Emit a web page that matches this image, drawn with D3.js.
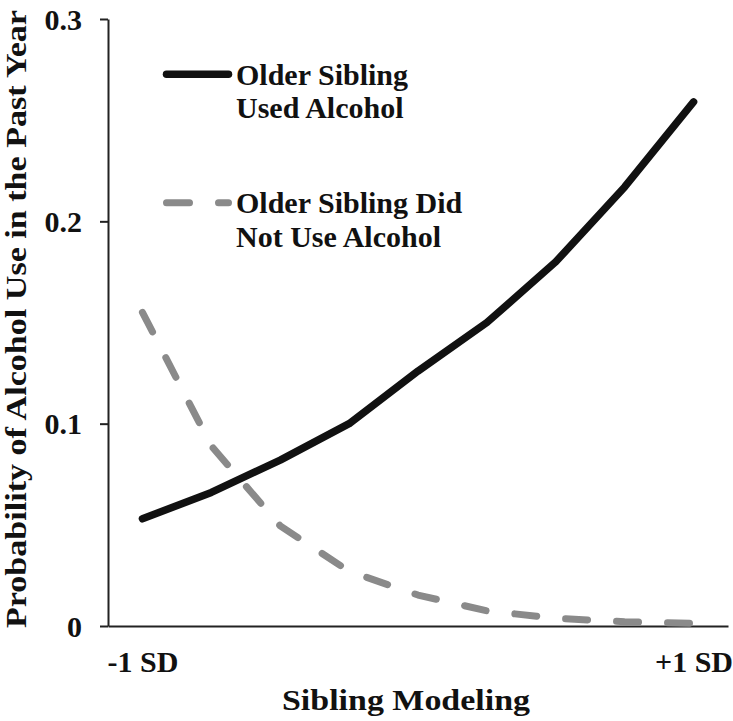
<!DOCTYPE html>
<html>
<head>
<meta charset="utf-8">
<script src="https://cdn.jsdelivr.net/npm/d3@7"></script>
<style>
  html, body { margin: 0; padding: 0; background: #fff; }
  svg { display: block; }
  text { font-family: "Liberation Serif", "Times New Roman", serif; font-weight: bold; fill: #111; }
</style>
</head>
<body>
<script>
// ---- data ----
const categories = ["-1 SD", "", "", "", "", "", "", "", "+1 SD"];
const usedAlcohol = [0.053, 0.066, 0.082, 0.100, 0.126, 0.150, 0.180, 0.217, 0.259];
const didNotUse = [0.155, 0.089, 0.0495, 0.027, 0.0153, 0.0075, 0.0038, 0.0021, 0.0013];
const yTicks = [0, 0.1, 0.2, 0.3];
const yTickLabels = ["0", "0.1", "0.2", "0.3"];
const seriesNames = [["Older Sibling", "Used Alcohol"], ["Older Sibling Did", "Not Use Alcohol"]];
const xTitle = "Sibling Modeling";
const yTitle = "Probability of Alcohol Use in the Past Year";

const W = 733, H = 721;
const svg = d3.select("body").append("svg").attr("width", W).attr("height", H);

const idx = categories.map((d, i) => i);
const x = d3.scalePoint().domain(idx).range([108, 728]).padding(0.5);
const y = d3.scaleLinear().domain([0, 0.3]).range([626, 19]);

// y axis
const yAxis = svg.append("g").attr("transform", "translate(108,0)")
  .call(d3.axisLeft(y).tickValues(yTicks).tickSize(8).tickSizeOuter(0)
    .tickFormat((d, i) => yTickLabels[i]));
yAxis.select(".domain").attr("stroke", "#222").attr("stroke-width", 2);
yAxis.selectAll(".tick line").attr("stroke", "#222").attr("stroke-width", 2);
yAxis.selectAll(".tick text").attr("x", -26).attr("dy", "0.34em")
  .style("font-size", "30px").style("font-family", "'Liberation Serif', serif").style("font-weight", "bold").attr("fill", "#111");

// x axis
const xAxis = svg.append("g").attr("transform", "translate(0,626)")
  .call(d3.axisBottom(x).tickSize(0).tickSizeOuter(0).tickFormat(i => categories[i]));
xAxis.select(".domain").attr("stroke", "#222").attr("stroke-width", 2);
xAxis.selectAll(".tick text").attr("y", 46).attr("dy", 0)
  .style("font-size", "30px").style("font-family", "'Liberation Serif', serif").style("font-weight", "bold").attr("fill", "#111");

// lines
const line = d3.line().x((d, i) => x(i)).y(d => y(d));
svg.append("path").datum(didNotUse).attr("d", line)
  .attr("fill", "none").attr("stroke", "#8a8a8a").attr("stroke-width", 7)
  .attr("stroke-dasharray", "22,29").attr("stroke-linecap", "round").attr("stroke-linejoin", "round");
svg.append("path").datum(usedAlcohol).attr("d", line)
  .attr("fill", "none").attr("stroke", "#111").attr("stroke-width", 7.5)
  .attr("stroke-linecap", "round").attr("stroke-linejoin", "round");

// legend
const leg = [
  { y: 74.3, color: "#111", dash: null, w: 7.5, lines: seriesNames[0], base: 85 },
  { y: 202.7, color: "#8a8a8a", dash: "23,29", w: 7, lines: seriesNames[1], base: 213.3 }
];
leg.forEach(l => {
  svg.append("line").attr("x1", 166.5).attr("x2", 228.5).attr("y1", l.y).attr("y2", l.y)
    .attr("stroke", l.color).attr("stroke-width", l.w).attr("stroke-linecap", "round")
    .attr("stroke-dasharray", l.dash);
  l.lines.forEach((t, j) => {
    svg.append("text").attr("x", 236).attr("y", l.base + j * 33.4)
      .style("font-size", "30px").text(t);
  });
});

// axis titles
svg.append("text").attr("x", 406).attr("y", 710).attr("text-anchor", "middle")
  .style("font-size", "30px").attr("textLength", 248).attr("lengthAdjust", "spacingAndGlyphs")
  .text(xTitle);
svg.append("text").attr("transform", "translate(26,319) rotate(-90)").attr("text-anchor", "middle")
  .style("font-size", "29px").attr("textLength", 618).attr("lengthAdjust", "spacingAndGlyphs")
  .text(yTitle);
</script>
</body>
</html>
